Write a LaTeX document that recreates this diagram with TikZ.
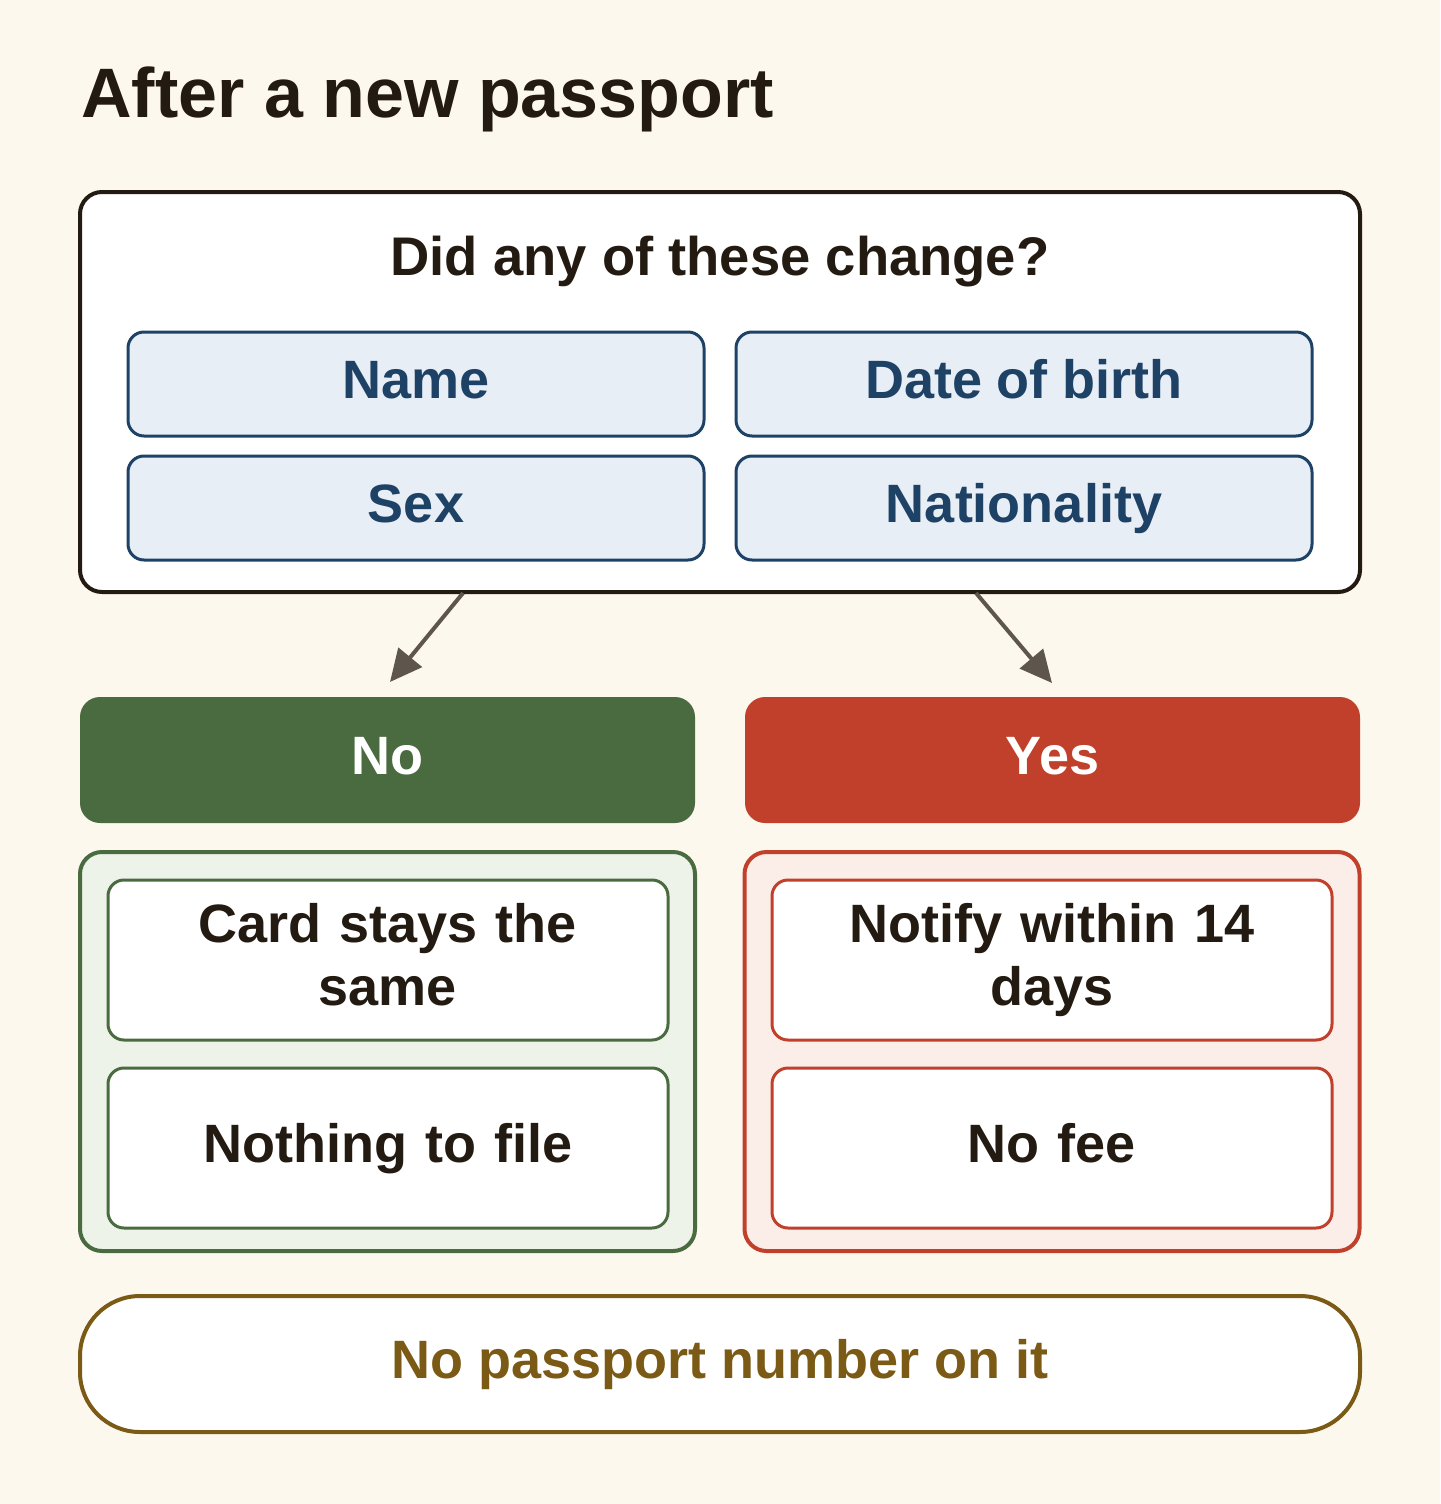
\documentclass[tikz,border=0pt]{standalone}
\usepackage{fontspec}
\setmainfont{Liberation Sans}
\usetikzlibrary{arrows.meta}
\definecolor{bg}{HTML}{FCF8EE}
\definecolor{ink}{HTML}{231A12}
\definecolor{chipfill}{HTML}{E8EEF6}
\definecolor{chipline}{HTML}{1E4266}
\definecolor{nogreen}{HTML}{4A6A40}
\definecolor{nofill}{HTML}{EEF3EA}
\definecolor{yesred}{HTML}{C0402C}
\definecolor{yesfill}{HTML}{FBEEE9}
\definecolor{gold}{HTML}{7A5A14}
\definecolor{arrowc}{HTML}{5E564C}
\begin{document}
\begin{tikzpicture}[x=0.5pt,y=-0.5pt,
  box/.style={rounded corners=11pt, inner sep=0pt, align=center, text height=19.4pt, text depth=5pt, font=\bfseries\fontsize{27}{31.5}\selectfont},
  chip/.style={box, rounded corners=8pt, draw=chipline, line width=1.5pt, fill=chipfill, text=chipline, minimum width=288pt, minimum height=52pt},
  head/.style={box, rounded corners=10pt, text=white, minimum width=307.5pt, minimum height=63pt},
  panel/.style={box, line width=2pt, minimum width=307.5pt, minimum height=199.5pt},
  item/.style={box, rounded corners=8pt, fill=white, line width=1.5pt, text=ink, minimum width=280pt, minimum height=80pt, text width=260pt},
  twoline/.style={text depth=36.5pt},
  flow/.style={draw=arrowc, line width=2pt, -{Triangle[length=16pt,width=15pt]}}
]
\fill[bg] (0,0) rectangle (1440,1504);
\useasboundingbox (0,0) rectangle (1440,1504);
\node[anchor=base west, inner sep=0pt, text=ink, font=\bfseries\fontsize{35}{40}\selectfont] (title) at (81,118) {After a new passport};
\node[box, draw=ink, line width=2pt, fill=white, minimum width=640pt, minimum height=200pt] (q) at (720,392) {};
\node[anchor=base, inner sep=0pt, text=ink, font=\bfseries\fontsize{27.2}{32}\selectfont] (qt) at (720,275) {Did any of these change?};
\node[chip] (name) at (416,384) {Name};
\node[chip] (dob) at (1024,384) {Date of birth};
\node[chip] (sex) at (416,508) {Sex};
\node[chip] (nat) at (1024,508) {Nationality};
\node[head, fill=nogreen] (no) at (387.5,760) {No};
\node[head, fill=yesred] (yes) at (1052.5,760) {Yes};
\node[panel, draw=nogreen, fill=nofill] (np) at (387.5,1051.5) {};
\node[panel, draw=yesred, fill=yesfill] (yp) at (1052,1051.5) {};
\node[item, twoline, draw=nogreen] (card) at (388,960) {Card stays the\\same};
\node[item, draw=nogreen] (nothing) at (388,1148) {Nothing to file};
\node[item, twoline, draw=yesred] (notify) at (1052,960) {Notify within 14\\days};
\node[item, draw=yesred] (fee) at (1052,1148) {No fee};
\node[box, rounded corners=30pt, draw=gold, line width=2pt, fill=white, text=gold, minimum width=640pt, minimum height=68pt] (pp) at (720,1364) {No passport number on it};
\coordinate (a1) at (463,593);
\coordinate (a2) at (976,593);
\draw[flow] (a1) -- (390,682);
\draw[flow] (a2) -- (1052,683);
\end{tikzpicture}
\end{document}
